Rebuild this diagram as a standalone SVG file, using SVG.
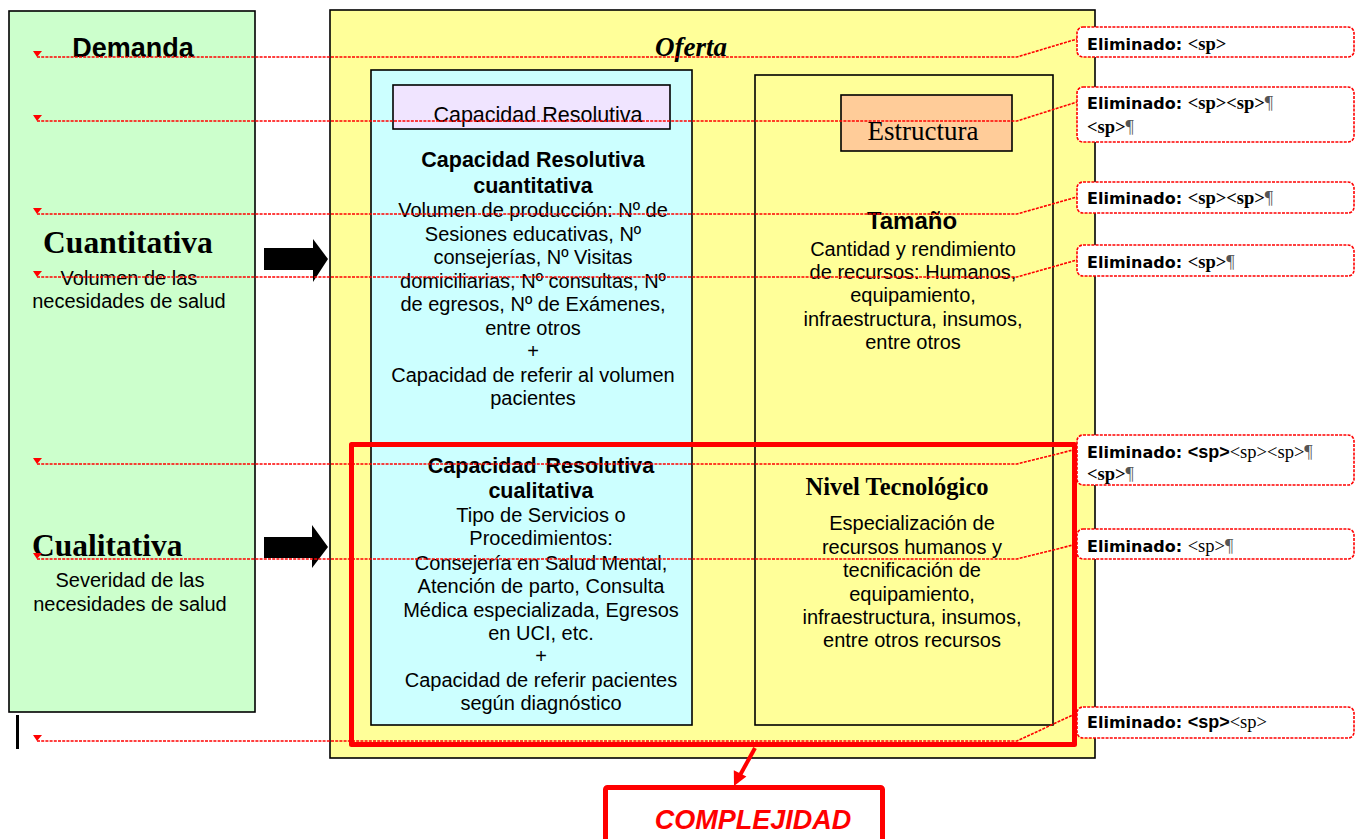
<svg xmlns="http://www.w3.org/2000/svg" width="1364" height="839" viewBox="0 0 1364 839">
<style>
.box{stroke:#000;stroke-width:1.6}
.a{font-family:"Liberation Sans",Arial,sans-serif;fill:#000}
.t{font-family:"Liberation Serif","Times New Roman",serif;fill:#000}
.b{font-weight:bold}
.n{font-size:20px}
.trk{fill:none;stroke:#ff0000;stroke-width:1.6;stroke-dasharray:3 1.2}
.call{fill:#fff;stroke:#ff0000;stroke-width:1.6;stroke-dasharray:3 1.2}
.ct{font-family:"DejaVu Sans",Verdana,sans-serif;font-weight:bold;font-size:16px;fill:#000}
.sp{font-family:"Liberation Serif","Times New Roman",serif;font-size:18.5px;font-weight:bold}
.spn{font-family:"Liberation Serif","Times New Roman",serif;font-size:18.5px;font-weight:normal}
.pil{fill:#555;font-weight:normal}
</style>
<rect width="1364" height="839" fill="#fff"/>

<g id="demanda">
<rect class="box" x="9" y="11" width="246" height="701" fill="#ccffcc"/>
<text class="a b" x="133" y="57" font-size="27" text-anchor="middle">Demanda</text>
<text class="t b" x="128" y="253" font-size="31.5" text-anchor="middle">Cuantitativa</text>
<text class="a" x="129" y="285" font-size="20" text-anchor="middle">Volumen de las</text>
<text class="a" x="129" y="308" font-size="20" text-anchor="middle">necesidades de salud</text>
<text class="t b" x="32" y="556" font-size="31.5">Cualitativa</text>
<text class="a" x="130" y="587" font-size="20" text-anchor="middle">Severidad de las</text>
<text class="a" x="130" y="611" font-size="20" text-anchor="middle">necesidades de salud</text>
</g>

<rect x="16" y="715" width="3" height="34" fill="#000"/>

<g id="arrows-black">
<polygon points="264,248 313,248 313,239 328,259 313,282 313,270 264,270" fill="#000"/>
<polygon points="264,537 312,537 312,525 328,547 312,568 312,558 264,558" fill="#000"/>
</g>

<g id="oferta">
<rect class="box" x="330" y="10" width="765" height="748" fill="#ffff99"/>
<text class="t b" x="691" y="56" font-size="27" font-style="italic" text-anchor="middle">Oferta</text>
</g>

<g id="capacidad">
<rect class="box" x="371" y="70" width="321" height="655" fill="#ccffff"/>
<rect class="box" x="393" y="85" width="277" height="44" fill="#f0e4ff"/>
<text class="a" x="538" y="122" font-size="21.5" text-anchor="middle">Capacidad Resolutiva</text>
<g class="a" text-anchor="middle">
<text class="b" x="533" y="167" font-size="21.5">Capacidad Resolutiva</text>
<text class="b" x="533" y="193" font-size="21.5">cuantitativa</text>
<text class="n" x="533" y="217">Volumen de producción: Nº de</text>
<text class="n" x="533" y="241">Sesiones educativas, Nº</text>
<text class="n" x="533" y="264">consejerías, Nº Visitas</text>
<text class="n" x="533" y="288">domiciliarias, Nº consultas, Nº</text>
<text class="n" x="533" y="311">de egresos, Nº de Exámenes,</text>
<text class="n" x="533" y="335">entre otros</text>
<text class="n" x="533" y="358">+</text>
<text class="n" x="533" y="382">Capacidad de referir al volumen</text>
<text class="n" x="533" y="405">pacientes</text>
<text class="b" x="541" y="473" font-size="21.5" word-spacing="3">Capacidad Resolutiva</text>
<text class="b" x="541" y="498" font-size="21.5">cualitativa</text>
<text class="n" x="541" y="522">Tipo de Servicios o</text>
<text class="n" x="541" y="545">Procedimientos:</text>
<text class="n" x="541" y="570">Consejería en Salud Mental,</text>
<text class="n" x="541" y="593">Atención de parto, Consulta</text>
<text class="n" x="541" y="617">Médica especializada, Egresos</text>
<text class="n" x="541" y="640">en UCI, etc.</text>
<text class="n" x="541" y="663">+</text>
<text class="n" x="541" y="687">Capacidad de referir pacientes</text>
<text class="n" x="541" y="710">según diagnóstico</text>
</g>
</g>

<g id="estructura">
<rect class="box" x="755" y="75" width="298" height="650" fill="#ffff99"/>
<rect class="box" x="841" y="95" width="171" height="56" fill="#ffcc99"/>
<text class="t" x="923" y="140" font-size="27" text-anchor="middle">Estructura</text>
<g class="a" text-anchor="middle">
<text class="b" x="912" y="229" font-size="24">Tamaño</text>
<text class="n" x="913" y="256">Cantidad y rendimiento</text>
<text class="n" x="913" y="279">de recursos: Humanos,</text>
<text class="n" x="913" y="302">equipamiento,</text>
<text class="n" x="913" y="326">infraestructura, insumos,</text>
<text class="n" x="913" y="349">entre otros</text>
<text class="n" x="912" y="530">Especialización de</text>
<text class="n" x="912" y="554">recursos humanos y</text>
<text class="n" x="912" y="577">tecnificación de</text>
<text class="n" x="912" y="601">equipamiento,</text>
<text class="n" x="912" y="624">infraestructura, insumos,</text>
<text class="n" x="912" y="647">entre otros recursos</text>
</g>
<text class="t b" x="897" y="495" font-size="24.5" text-anchor="middle">Nivel Tecnológico</text>
</g>

<g id="complejidad-frame">
<rect x="351.5" y="444.5" width="723" height="300" fill="none" stroke="#ff0000" stroke-width="5" stroke-linejoin="round"/>
</g>

<g id="connectors">
<path class="trk" d="M37,57 H1017 L1077,39"/>
<path class="trk" d="M37,121 H1017 L1077,102"/>
<path class="trk" d="M37,214 H1017 L1077,197"/>
<path class="trk" d="M37,277 H1017 L1077,260"/>
<path class="trk" d="M37,464 H1017 L1077,449"/>
<path class="trk" d="M37,559 H1017 L1077,544"/>
<path class="trk" d="M37,741 H1017 L1077,713"/>
<g fill="#ff0000">
<polygon points="33,51 42,51 37,57"/>
<polygon points="33,115 42,115 37,121"/>
<polygon points="33,208 42,208 37,214"/>
<polygon points="33,271 42,271 37,277"/>
<polygon points="33,458 42,458 37,464"/>
<polygon points="33,553 42,553 37,559"/>
<polygon points="33,735 42,735 37,741"/>
</g>
<line x1="755" y1="748" x2="739" y2="777" stroke="#ff0000" stroke-width="4"/>
<polygon points="734,786 746.4,776.5 733.8,770.3" fill="#ff0000"/>
</g>

<g id="callouts">
<g id="c1"><rect class="call" x="1077" y="27" width="277" height="30" rx="6"/>
<text class="ct" x="1087" y="50">Eliminado: <tspan class="sp">&lt;sp&gt;</tspan></text></g>
<g id="c2"><rect class="call" x="1077" y="87" width="277" height="55" rx="6"/>
<text class="ct" x="1087" y="109">Eliminado: <tspan class="sp">&lt;sp&gt;&lt;sp&gt;</tspan><tspan class="sp pil">¶</tspan></text>
<text class="ct" x="1087" y="133"><tspan class="sp">&lt;sp&gt;</tspan><tspan class="sp pil">¶</tspan></text></g>
<g id="c3"><rect class="call" x="1077" y="182" width="277" height="31" rx="6"/>
<text class="ct" x="1087" y="204">Eliminado: <tspan class="sp">&lt;sp&gt;&lt;sp&gt;</tspan><tspan class="sp pil">¶</tspan></text></g>
<g id="c4"><rect class="call" x="1077" y="245" width="277" height="31" rx="6"/>
<text class="ct" x="1087" y="268">Eliminado: <tspan class="sp">&lt;sp&gt;</tspan><tspan class="sp pil">¶</tspan></text></g>
<g id="c5"><rect class="call" x="1077" y="435" width="277" height="50" rx="6"/>
<text class="ct" x="1087" y="458">Eliminado: <tspan font-family="Liberation Sans,Arial,sans-serif" font-size="18">&lt;sp&gt;</tspan><tspan class="spn">&lt;sp&gt;&lt;sp&gt;</tspan><tspan class="spn pil">¶</tspan></text>
<text class="ct" x="1087" y="480"><tspan class="sp">&lt;sp&gt;</tspan><tspan class="sp pil">¶</tspan></text></g>
<g id="c6"><rect class="call" x="1077" y="529" width="277" height="30" rx="6"/>
<text class="ct" x="1087" y="552">Eliminado: <tspan class="spn">&lt;sp&gt;</tspan><tspan class="spn pil">¶</tspan></text></g>
<g id="c7"><rect class="call" x="1077" y="707" width="277" height="31" rx="6"/>
<text class="ct" x="1087" y="728">Eliminado: <tspan font-family="Liberation Sans,Arial,sans-serif" font-size="18">&lt;sp&gt;</tspan><tspan class="spn">&lt;sp&gt;</tspan></text></g>
</g>

<g id="complejidad">
<rect x="605.5" y="787.5" width="277" height="62" fill="#fff" stroke="#ff0000" stroke-width="5" rx="2"/>
<text class="a b" x="753" y="829" font-size="27" font-style="italic" fill="#ff0000" style="fill:#ff0000" text-anchor="middle">COMPLEJIDAD</text>
</g>
</svg>
